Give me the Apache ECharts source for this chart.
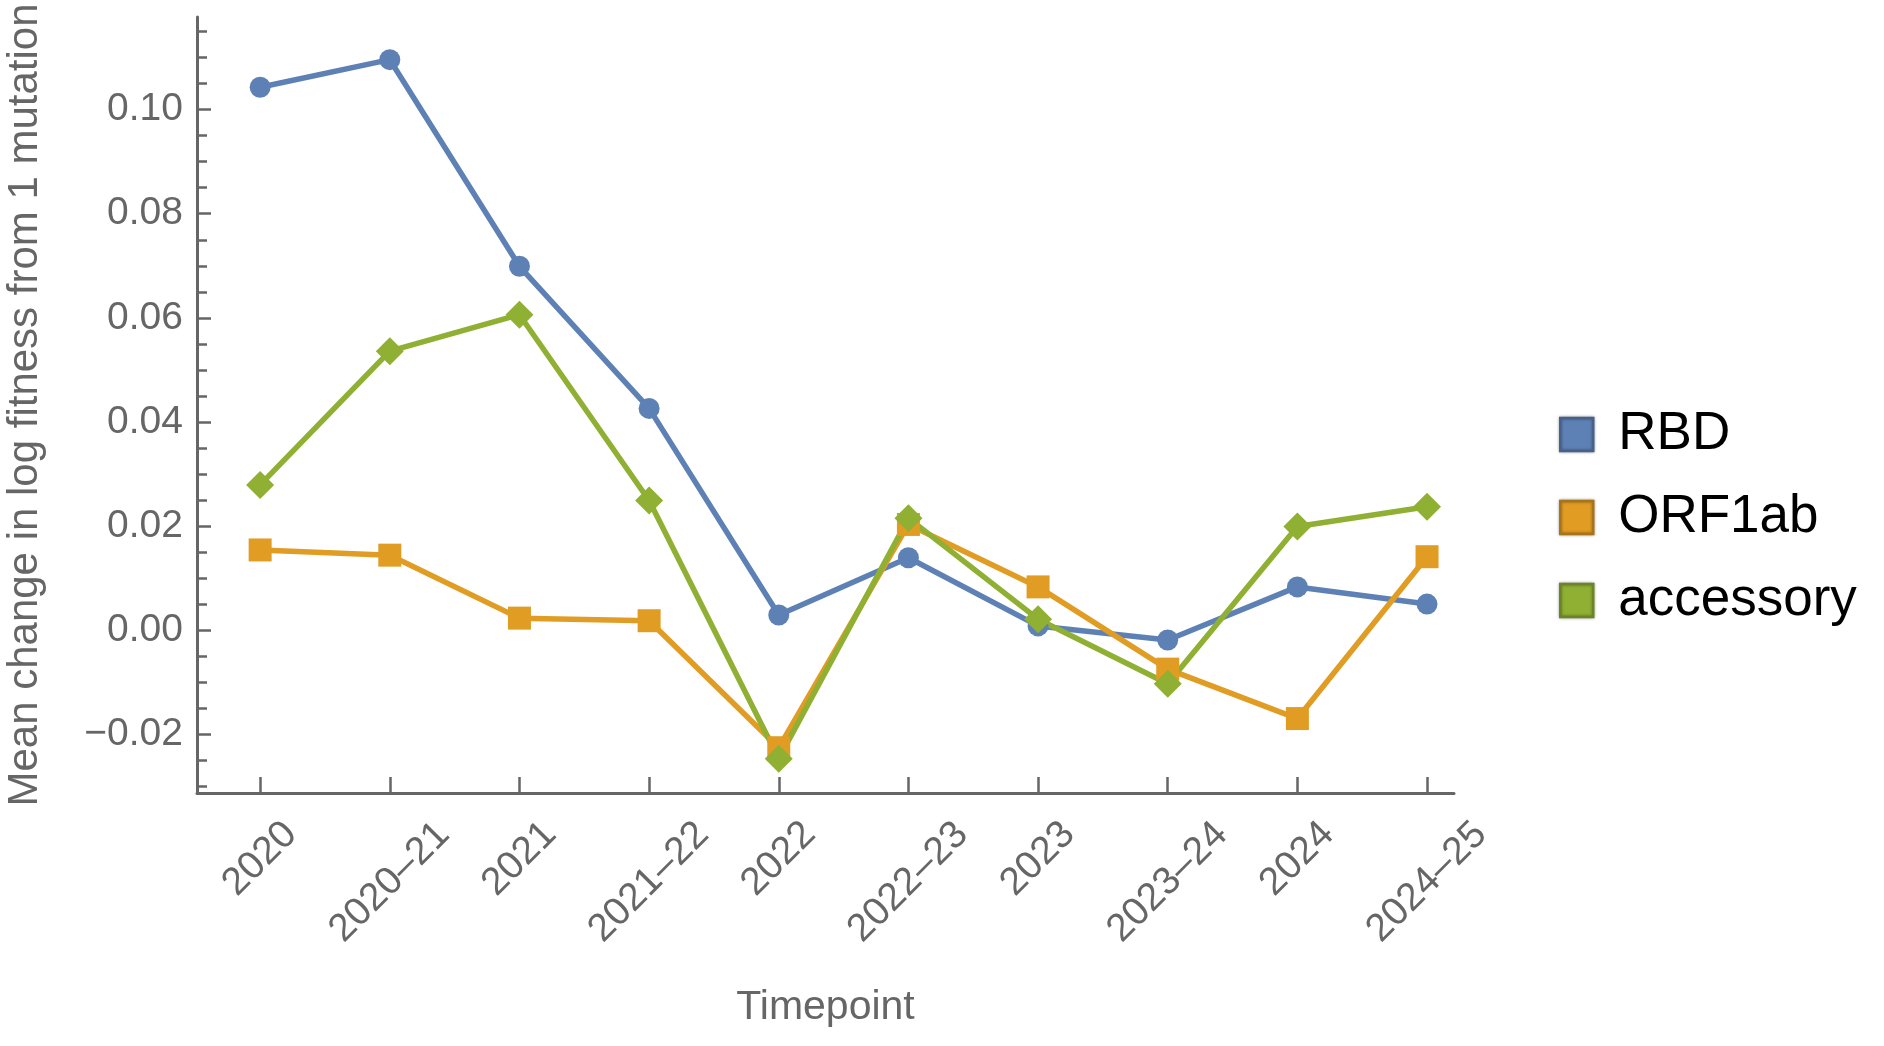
<!DOCTYPE html>
<html>
<head>
<meta charset="utf-8">
<script src="https://cdn.jsdelivr.net/npm/echarts@6/dist/echarts.min.js"></script>
<style>
html,body{margin:0;padding:0;background:#fff;}
#chart{width:1884px;height:1046px;}
</style>
</head>
<body>
<div id="chart"></div>
<script>
const categories = ['2020','2020–21','2021','2021–22','2022','2022–23','2023','2023–24','2024','2024–25'];
const rbd       = [0.1043, 0.1096, 0.0699, 0.0426, 0.0029, 0.0139, 0.0008, -0.0019, 0.0083, 0.0050];
const orf1ab    = [0.0154, 0.0144, 0.0023, 0.0018, -0.0226, 0.0203, 0.0083, -0.0075, -0.0170, 0.0141];
const accessory = [0.0279, 0.0536, 0.0606, 0.0249, -0.0247, 0.0215, 0.0021, -0.0103, 0.0199, 0.0237];
const yTickLabels = [-0.02, 0.00, 0.02, 0.04, 0.06, 0.08, 0.10];
const seriesNames = ['RBD', 'ORF1ab', 'accessory'];

const FONT = '"Liberation Sans", Arial, Helvetica, sans-serif';
const GRAY = '#666666';
const colors = ['#5e81b5', '#e19c24', '#8fb032'];
const borders = ['#46618a', '#a8741a', '#6b8425'];

const Y_MIN = -0.0313, Y_MAX = 0.1178;
const catIdx = categories.map((_, i) => i);
const minorTicks = [];
for (let k = -6; k <= 23; k++) {
  const v = +(k * 0.005).toFixed(3);
  if (v >= Y_MIN && v <= Y_MAX && !yTickLabels.some(t => Math.abs(t - v) < 1e-9)) minorTicks.push(v);
}
const toPairs = arr => arr.map((v, i) => [i, v]);
const fmtY = v => (v < 0 ? '\u2212' : '') + Math.abs(v).toFixed(2);

const chart = echarts.init(document.getElementById('chart'), null, {renderer: 'canvas'});
chart.setOption({
  animation: false,
  backgroundColor: '#ffffff',
  grid: {left: 197, right: 430, top: 17, bottom: 253, containLabel: false, outerBoundsMode: 'none'},
  legend: {
    orient: 'vertical', left: 1559, top: 408, padding: 0,
    icon: 'rect', itemWidth: 33, itemHeight: 33, itemGap: 30,
    textStyle: {fontFamily: FONT, fontSize: 53, color: '#000', padding: [0, 0, 0, 20]},
    data: seriesNames.map((n, i) => ({name: n, itemStyle: {borderColor: borders[i], borderWidth: 2.5, shadowColor: 'rgba(0,0,0,0.35)', shadowBlur: 3}}))
  },
  xAxis: {
    type: 'value', min: -0.487, max: 9.208,
    name: 'Timepoint', nameLocation: 'middle', nameGap: 194, nameMoveOverlap: false,
    nameTextStyle: {fontFamily: FONT, fontSize: 41, color: GRAY},
    axisLine: {show: true, onZero: false, lineStyle: {color: GRAY, width: 3}},
    axisTick: {show: true, inside: true, length: 16, customValues: catIdx, lineStyle: {color: GRAY, width: 2.5}},
    splitLine: {show: false},
    axisLabel: {
      customValues: catIdx, rotate: 45, margin: 20, align: 'center', verticalAlign: 'middle',
      fontFamily: FONT, fontSize: 39, color: GRAY,
      formatter: v => { const s = categories[Math.round(v)]; return '{' + (s.length > 4 ? 'l' : 's') + '|' + s + '}'; },
      rich: {
        s: {fontFamily: FONT, fontSize: 39, color: GRAY, padding: [65, 65, 0, 0]},
        l: {fontFamily: FONT, fontSize: 39, color: GRAY, padding: [98, 98, 0, 0]}
      }
    }
  },
  yAxis: [{
    type: 'value', min: Y_MIN, max: Y_MAX, position: 'left',
    name: 'Mean change in log fitness from 1 mutation', nameLocation: 'middle', nameGap: 151, nameMoveOverlap: false,
    nameTextStyle: {fontFamily: FONT, fontSize: 42, color: GRAY},
    axisLine: {show: true, onZero: false, lineStyle: {color: GRAY, width: 3}},
    axisTick: {show: true, inside: true, length: 14, customValues: yTickLabels, lineStyle: {color: GRAY, width: 2.5}},
    axisLabel: {customValues: yTickLabels, margin: 14, fontFamily: FONT, fontSize: 39, color: GRAY, formatter: fmtY},
    splitLine: {show: false}
  }, {
    type: 'value', min: Y_MIN, max: Y_MAX, position: 'left', offset: 0,
    axisLine: {show: false, onZero: false},
    axisTick: {show: true, inside: true, length: 10, customValues: minorTicks, lineStyle: {color: GRAY, width: 2.5}},
    axisLabel: {show: false},
    splitLine: {show: false}
  }],
  series: [
    {name: seriesNames[0], type: 'line', data: toPairs(rbd), symbol: 'circle', symbolSize: 21,
     itemStyle: {color: colors[0]}, lineStyle: {color: colors[0], width: 5.5}, emphasis: {disabled: true}},
    {name: seriesNames[1], type: 'line', data: toPairs(orf1ab), symbol: 'rect', symbolSize: 23,
     itemStyle: {color: colors[1]}, lineStyle: {color: colors[1], width: 5.5}, emphasis: {disabled: true}},
    {name: seriesNames[2], type: 'line', data: toPairs(accessory), symbol: 'diamond', symbolSize: 28,
     itemStyle: {color: colors[2]}, lineStyle: {color: colors[2], width: 5.5}, emphasis: {disabled: true}}
  ]
});
</script>
</body>
</html>
